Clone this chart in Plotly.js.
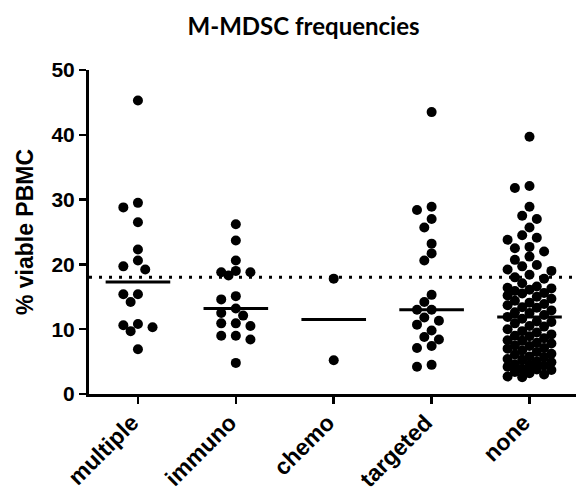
<!DOCTYPE html>
<html><head><meta charset="utf-8">
<script src="https://cdn.plot.ly/plotly-3.0.1.min.js"></script>
<style>html,body{margin:0;padding:0;background:#fff}</style>
</head><body><div id="chart" style="width:576px;height:493px"></div>
<script>
const categories = ['multiple', 'immuno', 'chemo', 'targeted', 'none'];
const multipleVals = [45.3, 29.5, 28.8, 26.5, 22.3, 20.6, 19.7, 19.2, 15.4, 15.4, 14.2, 10.8, 10.6, 10.3, 9.7, 6.9];
const immunoVals = [26.2, 23.7, 20.6, 19.0, 18.8, 18.8, 18.3, 15.1, 14.6, 13.2, 12.5, 12.1, 10.9, 10.9, 10.5, 9.0, 9.0, 8.4, 4.8];
const chemoVals = [17.8, 5.2];
const targetedVals = [43.5, 28.9, 28.4, 27.0, 25.7, 23.2, 21.7, 20.6, 15.3, 14.2, 13.0, 13.0, 11.8, 11.3, 10.7, 9.8, 8.8, 8.4, 7.4, 7.1, 4.5, 4.2];
const noneVals = [39.7, 32.1, 31.8, 28.9, 27.5, 27.0, 25.7, 24.5, 24.1, 23.8, 22.7, 22.5, 22.0, 21.2, 20.7,
  19.9, 19.7, 19.2, 19.0, 18.4, 18.0, 17.8,
  17.1, 16.6, 16.4, 16.3, 16.1, 15.9, 15.6, 15.5,
  15.2, 15.0, 14.7, 14.4, 14.1, 13.9,
  13.7, 13.4, 13.3, 12.9, 12.6, 12.5, 12.2,
  11.9,
  11.6, 11.2, 11.1, 10.9, 10.5, 10.4, 10.0, 9.7,
  9.5, 9.2, 9.0, 8.9, 8.6, 8.3, 8.2, 7.9,
  7.8, 7.5, 7.4, 7.1, 7.0, 6.7, 6.5, 6.2,
  6.1, 5.8, 5.7, 5.4, 5.3, 5.0, 4.9, 4.6,
  4.5, 4.4, 4.2, 3.9, 3.8, 3.7, 3.4, 3.2, 3.0, 2.7, 2.6];
const threshold = 18;
const yTicks = [0, 10, 20, 30, 40, 50];
const chartTitle = 'M-MDSC frequencies';
const yTitle = '% viable PBMC';

const groups = [multipleVals, immunoVals, chemoVals, targetedVals, noneVals];

const W = 576, H = 493, M = {l: 89, r: 0, t: 70, b: 99};
const xRange = [-0.5, 4.475], yRange = [0, 50];
const pxX = (W - M.l - M.r) / (xRange[1] - xRange[0]);
const pxY = (H - M.t - M.b) / (yRange[1] - yRange[0]);
const laneStep = 7.3, dotD = 9.6, maxLane = 3;

function swarm(vals) {
  const placed = [];
  const offs = new Array(vals.length);
  const order = vals.map((v, i) => i).sort((a, b) => vals[b] - vals[a]);
  const lanes = [0];
  for (let k = 1; k <= maxLane; k++) lanes.push(-k, k);
  order.forEach(i => {
    const y = vals[i] * pxY;
    let best = 0, bestD = -1;
    for (const L of lanes) {
      const x = L * laneStep;
      let mn = Infinity;
      for (const p of placed) {
        const d = Math.hypot(p.x - x, p.y - y);
        if (d < mn) mn = d;
      }
      if (mn >= dotD) { best = L; bestD = mn; break; }
      if (mn > bestD) { bestD = mn; best = L; }
    }
    placed.push({x: best * laneStep, y});
    offs[i] = best * laneStep / pxX;
  });
  return offs;
}
function median(vals) {
  const s = vals.slice().sort((a, b) => a - b);
  const n = s.length;
  return n % 2 ? s[(n - 1) / 2] : (s[n / 2 - 1] + s[n / 2]) / 2;
}

const traces = [];
groups.forEach((vals, i) => {
  const offs = swarm(vals);
  traces.push({
    type: 'scatter', mode: 'markers',
    x: vals.map((v, j) => i + offs[j]), y: vals,
    marker: {color: '#000', size: 10, line: {width: 0}},
    hoverinfo: 'skip'
  });
  const m = median(vals);
  traces.push({
    type: 'scatter', mode: 'lines',
    x: [i - 0.33, i + 0.33], y: [m, m],
    line: {color: '#000', width: 3}, hoverinfo: 'skip'
  });
});

const arialBold = 'Arial';
const layout = {
  width: W, height: H, margin: M,
  paper_bgcolor: '#fff', plot_bgcolor: '#fff',
  showlegend: false,
  font: {family: 'Arial', color: '#000'},
  title: {text: chartTitle, x: 0.527, xanchor: 'center', y: 0.947, yanchor: 'middle',
    font: {family: 'Lato', size: 24, color: '#000', weight: 'bold'}},
  xaxis: {range: xRange, tickvals: categories.map((c, i) => i), ticktext: categories,
    tickangle: -45, showline: true, linewidth: 3, linecolor: '#000',
    ticks: 'outside', ticklen: 7, tickwidth: 2.5, tickcolor: '#000',
    ticklabelstandoff: -4, ticklabelshift: -6,
    showgrid: false, zeroline: false,
    tickfont: {family: arialBold, size: 23, color: '#000', weight: 'bold'}},
  yaxis: {range: yRange, tickvals: yTicks, showline: true, linewidth: 3, linecolor: '#000',
    ticks: 'outside', ticklen: 7, tickwidth: 2.5, tickcolor: '#000',
    showgrid: false, zeroline: false,
    tickfont: {family: arialBold, size: 21, color: '#000', weight: 'bold'},
    title: {text: yTitle, standoff: 12, font: {family: arialBold, size: 23, color: '#000', weight: 'bold'}}},
  shapes: [{type: 'line', xref: 'paper', yref: 'y', x0: 0, x1: 1, y0: threshold, y1: threshold,
    layer: 'below', line: {color: '#000', width: 3, dash: '3px,7px'}}]
};
Plotly.newPlot('chart', traces, layout, {displayModeBar: false, staticPlot: true});
</script>
</body></html>
